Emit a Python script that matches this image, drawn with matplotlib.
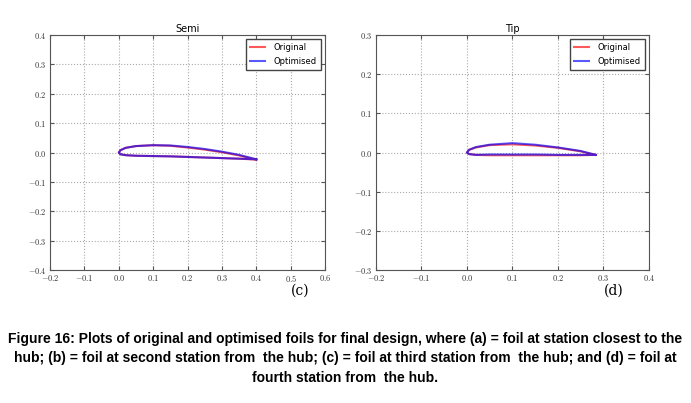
import matplotlib
matplotlib.use('Agg')
from matplotlib import pyplot as plt
from matplotlib.ticker import FuncFormatter, MultipleLocator

# Semi station foil (upper surface and lower surface, leading edge -> trailing edge)
semi_x = [0.0, 0.005, 0.02, 0.05, 0.1, 0.15, 0.2, 0.25, 0.3, 0.35, 0.4]
semi_orig_upper = [0.0, 0.008, 0.016, 0.022, 0.025, 0.023, 0.017, 0.010, 0.001, -0.010, -0.024]
semi_orig_lower = [0.0, -0.006, -0.009, -0.011, -0.012, -0.013, -0.015, -0.017, -0.019, -0.021, -0.024]
semi_opt_upper = [0.0, 0.008, 0.016, 0.022, 0.025, 0.024, 0.019, 0.012, 0.003, -0.008, -0.023]
semi_opt_lower = [0.0, -0.006, -0.009, -0.011, -0.012, -0.013, -0.015, -0.017, -0.019, -0.021, -0.023]

# Tip station foil
tip_x = [0.0, 0.005, 0.02, 0.05, 0.1, 0.15, 0.2, 0.25, 0.283]
tip_orig_upper = [0.0, 0.007, 0.013, 0.019, 0.021, 0.018, 0.012, 0.003, -0.006]
tip_orig_lower = [0.0, -0.004, -0.006, -0.007, -0.007, -0.007, -0.007, -0.007, -0.006]
tip_opt_upper = [0.0, 0.007, 0.014, 0.020, 0.024, 0.020, 0.013, 0.004, -0.006]
tip_opt_lower = [0.0, -0.004, -0.006, -0.005, -0.005, -0.005, -0.006, -0.006, -0.006]

caption = ("Figure 16: Plots of original and optimised foils for final design, where (a) = foil at station closest to the\n"
           "hub; (b) = foil at second station from  the hub; (c) = foil at third station from  the hub; and (d) = foil at\n"
           "fourth station from  the hub.")

plt.rcParams['mathtext.fontset'] = 'cm'
fig = plt.figure(figsize=(6.91, 4.03), dpi=100)


def tick_fmt(v, pos):
    s = '%.1f' % v
    if s == '-0.0':
        s = '0.0'
    return '$' + s + '$'


def foil_axes(rect, title, x, ou, ol, pu, pl, xlim, ylim):
    ax = fig.add_axes(rect)
    xs = x[::-1] + x[1:]
    ax.plot(xs, ou[::-1] + ol[1:], color='red', lw=1.5, alpha=0.65, label='Original')
    ax.plot(xs, pu[::-1] + pl[1:], color='blue', lw=1.5, alpha=0.65, label='Optimised')
    ax.set_xlim(*xlim)
    ax.set_ylim(*ylim)
    ax.xaxis.set_major_locator(MultipleLocator(0.1))
    ax.yaxis.set_major_locator(MultipleLocator(0.1))
    ax.xaxis.set_major_formatter(FuncFormatter(tick_fmt))
    ax.yaxis.set_major_formatter(FuncFormatter(tick_fmt))
    ax.tick_params(direction='in', top=True, right=True, labelsize=6, length=3, pad=2.5,
                   color='#555555', labelcolor='#333333')
    ax.grid(True, linestyle=':', color='#aaaaaa', linewidth=0.8)
    for sp in ax.spines.values():
        sp.set_color('#555555')
    ax.set_title(title, fontsize=7, pad=2)
    leg = ax.legend(loc='upper right', fontsize=6, fancybox=False, framealpha=1,
                    handlelength=1.8, borderpad=0.5, handletextpad=1.0)
    leg.get_frame().set_edgecolor('#444444')
    return ax


foil_axes([0.0724, 0.330, 0.398, 0.583], 'Semi', semi_x, semi_orig_upper, semi_orig_lower,
          semi_opt_upper, semi_opt_lower, (-0.2, 0.6), (-0.4, 0.4))
foil_axes([0.544, 0.330, 0.395, 0.583], 'Tip', tip_x, tip_orig_upper, tip_orig_lower,
          tip_opt_upper, tip_opt_lower, (-0.2, 0.4), (-0.3, 0.3))

fig.text(300 / 691, 1 - 291 / 403, '(c)', fontsize=10, family='DejaVu Serif', ha='center', va='center')
fig.text(614 / 691, 1 - 291 / 403, '(d)', fontsize=10, family='DejaVu Serif', ha='center', va='center')

fig.text(0.5, 1 - 358 / 403, caption, fontsize=10, fontweight='bold', family='Liberation Sans',
         ha='center', va='center', linespacing=1.5)

fig.savefig('out.png', dpi=100)
